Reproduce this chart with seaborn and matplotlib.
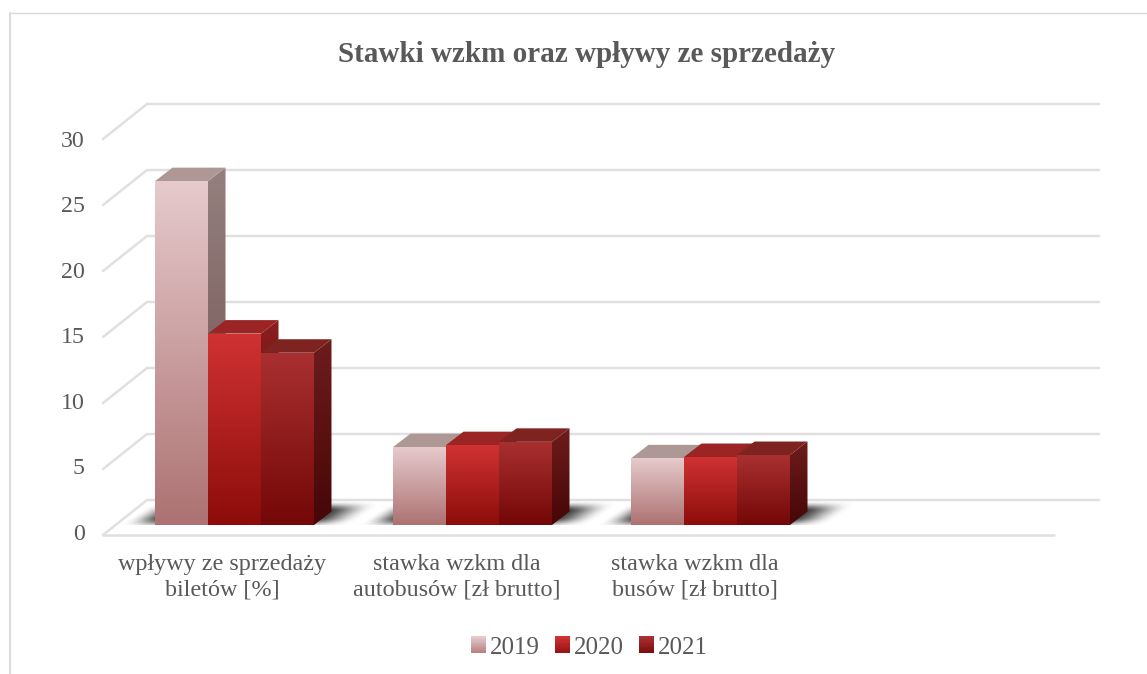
import numpy as np
import pandas as pd
import matplotlib
matplotlib.use("Agg")
import matplotlib.pyplot as plt
from matplotlib.colors import LinearSegmentedColormap
from matplotlib.legend_handler import HandlerBase
from matplotlib.patches import Patch, Polygon, Rectangle
from matplotlib.transforms import ScaledTranslation, blended_transform_factory, IdentityTransform
import seaborn as sns

categories = ["wpływy ze sprzedaży\nbiletów [%]",
              "stawka wzkm dla\nautobusów [zł brutto]",
              "stawka wzkm dla\nbusów [zł brutto]"]
years = ["2019", "2020", "2021"]
values_2019 = [26.05, 5.9, 5.05]
values_2020 = [14.5, 6.05, 5.15]
values_2021 = [13.05, 6.3, 5.3]
y_ticks = [0, 5, 10, 15, 20, 25, 30]
title_text = "Stawki wzkm oraz wpływy ze sprzedaży"

front_top = {"2019": "#e6cacc", "2020": "#d03232", "2021": "#a93030"}
front_bottom = {"2019": "#ad7272", "2020": "#8c0d0b", "2021": "#740707"}
side_top = {"2019": "#94807e", "2020": "#8a1e1e", "2021": "#6e1c1c"}
side_bottom = {"2019": "#6e4c4c", "2020": "#5c0a0a", "2021": "#470606"}
top_face = {"2019": "#ae9895", "2020": "#9b2424", "2021": "#7f2320"}
TEXT = "#595959"
GRID = "#e0e0e0"

W, H, DPI = 1147, 674, 100
sns.set_theme(style="white")
plt.rcParams["font.family"] = ["Liberation Serif", "DejaVu Serif"]

fig = plt.figure(figsize=(W / DPI, H / DPI), dpi=DPI)
fig.patch.set_facecolor("white")

# plot plane in pixels: four category slots, the last one empty
PX_L, PX_R, PX_Y0, PX_UNIT = 115.5, 1067.5, 525.0, 13.2
ax = fig.add_axes([PX_L / W, 1 - PX_Y0 / H, (PX_R - PX_L) / W, 33 * PX_UNIT / H])
ax.patch.set_alpha(0)

df = pd.DataFrame({
    "category": categories * 3,
    "year": sum([[y] * 3 for y in years], []),
    "value": values_2019 + values_2020 + values_2021,
})
sns.barplot(data=df, x="category", y="value", hue="year", hue_order=years,
            palette=[front_top[y] for y in years], width=0.668, gap=0,
            legend=False, ax=ax, saturation=1, errorbar=None)
ax.set_xlim(-0.5, 3.5)
ax.set_ylim(0, 33)
ax.set_xlabel("")
ax.set_ylabel("")
for s in ax.spines.values():
    s.set_visible(False)

px_per_x = (PX_R - PX_L) / 4
DEPTH_X, DEPTH_Y = 17.5 / px_per_x, 13.5 / PX_UNIT


def vgrad(c_top, c_bot):
    return LinearSegmentedColormap.from_list("g", [c_top, c_bot])


def gradient_in(artist, x0, x1, y0, y1, c_top, c_bot, z):
    im = ax.imshow(np.linspace(0, 1, 128).reshape(-1, 1), cmap=vgrad(c_top, c_bot),
                   extent=[x0, x1, y0, y1], origin="upper", aspect="auto",
                   interpolation="bilinear", zorder=z)
    im.set_clip_path(artist)
    return im


# walls of the 3D frame: gridlines with depth, in pixel x and data y
mixed = blended_transform_factory(IdentityTransform(), ax.transData)
FX_L, BX_L, FX_R, BX_R = 103.0, 147.0, 1054.0, 1099.0
front_off, back_off = -10 / PX_UNIT, 25 / PX_UNIT

for v in y_ticks:
    ax.plot([FX_L, BX_L, BX_R], [v + front_off, v + back_off, v + back_off],
            transform=mixed, color=GRID, lw=1.8, zorder=0.5, clip_on=False,
            solid_joinstyle="miter")
ax.plot([FX_L, FX_R], [front_off, front_off], transform=mixed,
        color=GRID, lw=1.8, zorder=0.5, clip_on=False)

# soft floor shadows behind each group
xx = np.linspace(-0.5, 0.6, 480)
yy = np.linspace(-0.4, 2.0, 80)
X, Y = np.meshgrid(xx, yy)


def ramp(t, s):
    c = np.clip(0.5 + t / s, 0, 1)
    return c ** 2 * (3 - 2 * c)


for i in range(len(categories)):
    U = X - 0.085 * (Y - 0.15)
    a = (ramp(U + 0.395, 0.16) * ramp(0.395 - U, 0.21) *
         ramp(Y - 0.15, 0.8) * ramp(1.4 - Y, 0.8))
    rgba = np.zeros(a.shape + (4,))
    rgba[..., :3] = 0.18
    rgba[..., 3] = a
    ax.imshow(rgba, extent=[i - 0.5, i + 0.6, -0.4, 2.0], origin="lower",
              aspect="auto", interpolation="bilinear", zorder=1)

# turn the flat seaborn bars into shaded blocks
order = []
for year, cont in zip(years, ax.containers):
    for bar in cont:
        order.append((bar.get_x(), year, bar))
order.sort(key=lambda t: t[0])
z = 2.0
for x0, year, bar in order:
    w, h = bar.get_width(), bar.get_height()
    x1 = x0 + w
    side = Polygon([(x1, 0), (x1 + DEPTH_X, DEPTH_Y), (x1 + DEPTH_X, h + DEPTH_Y), (x1, h)],
                   closed=True, facecolor="none", edgecolor="none", zorder=z)
    ax.add_patch(side)
    gradient_in(side, x1, x1 + DEPTH_X, 0, h + DEPTH_Y, side_top[year], side_bottom[year], z)
    top = Polygon([(x0, h), (x0 + DEPTH_X, h + DEPTH_Y), (x1 + DEPTH_X, h + DEPTH_Y), (x1, h)],
                  closed=True, facecolor=top_face[year], edgecolor="none", zorder=z + 0.1)
    ax.add_patch(top)
    bar.set_zorder(z + 0.2)
    bar.set_edgecolor("none")
    gradient_in(bar, x0, x1, 0, h, front_top[year], front_bottom[year], z + 0.3)
    z += 1
ax.set_xlim(-0.5, 3.5)
ax.set_ylim(0, 33)

# axis labels sit on the front edge of the floor
ax.set_yticks(y_ticks)
ax.set_xticks(range(len(categories)))
ax.set_xticklabels(categories, linespacing=1.3)
ax.tick_params(axis="y", length=0, pad=0, labelsize=17.2, labelcolor=TEXT)
ax.tick_params(axis="x", length=0, pad=0, labelsize=17.4, labelcolor=TEXT)
for v, lab in zip(y_ticks, ax.get_yticklabels()):
    lab.set_transform(lab.get_transform() +
                      ScaledTranslation(-31 / DPI, -(6.7 + 0.1 * v) / DPI, fig.dpi_scale_trans))
for i, lab in enumerate(ax.get_xticklabels()):
    shift = -12.5 - (3.5 if i else 0)
    lab.set_transform(lab.get_transform() + ScaledTranslation(shift / DPI, -29 / DPI, fig.dpi_scale_trans))

fig.text(587 / W, 1 - 54 / H, title_text, ha="center", va="center",
         fontsize=21, fontweight="bold", color=TEXT)


class GradientKey(HandlerBase):
    def create_artists(self, legend, orig, xd, yd, width, height, fontsize, trans):
        year = orig.get_label()
        cmap = vgrad(front_top[year], front_bottom[year])
        n = 12
        out = []
        for k in range(n):
            c = cmap(0.8 * k / (n - 1))
            out.append(Rectangle((-xd, -yd + height * (n - 1 - k) / n), width, height / n + 0.2,
                                 facecolor=c, edgecolor="none", transform=trans))
        return out


handles = [Patch(label=y) for y in years]
fig.legend(handles=handles, labels=years, loc="center", bbox_to_anchor=(589.5 / W, 1 - 647.5 / H),
           ncol=3, frameon=False, fontsize=18, labelcolor=TEXT,
           handler_map={Patch: GradientKey()}, handlelength=0.6, handleheight=0.6,
           handletextpad=0.16, columnspacing=0.6, borderpad=0)

# chart frame: top and left edges only are inside the picture
fig.add_artist(plt.Line2D([10 / W, 1], [1 - 12.5 / H, 1 - 12.5 / H], color="#d9d9d9",
                          lw=1.0, transform=fig.transFigure))
fig.add_artist(plt.Line2D([10 / W, 10 / W], [0, 1 - 12.5 / H], color="#dcdcdc",
                          lw=1.5, transform=fig.transFigure))

fig.savefig("out.png", dpi=DPI)
